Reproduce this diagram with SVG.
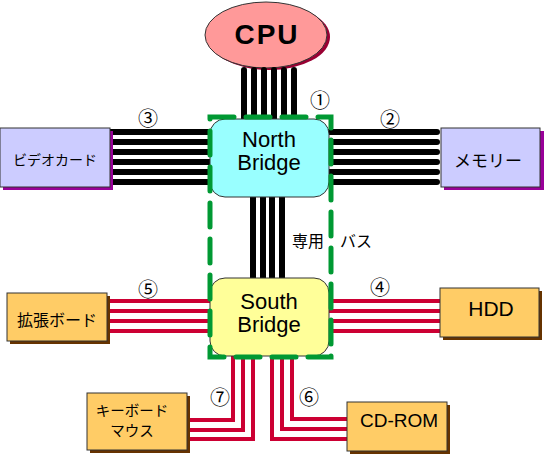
<svg xmlns="http://www.w3.org/2000/svg" width="547" height="456" viewBox="0 0 547 456">
<defs>
<style>
.jp{font-family:"Noto Sans CJK JP","Noto Sans",sans-serif;fill:#000}
.en{font-family:"Liberation Sans",Arial,sans-serif;fill:#000}
.num{font-family:"Noto Sans CJK JP","DejaVu Sans",sans-serif;font-size:20px;text-anchor:middle;fill:#000}
.blk{stroke:#000;stroke-width:6;fill:none}
.red{stroke:#cc0033;stroke-width:4;fill:none}
.box{stroke:#333;stroke-width:1}
.purple{fill:#ccccff}
.orange{fill:#ffcc66}
.shp{fill:#990099}
.shb{fill:#663300}
</style>
</defs>
<rect width="547" height="456" fill="#fff"/>

<g id="cpu">
<ellipse cx="269" cy="37" rx="61" ry="33" fill="#990033"/>
<ellipse cx="266" cy="35" rx="61" ry="33" fill="#ff9999" stroke="#333" stroke-width="1"/>
<text x="267" y="44" class="en" font-size="28" font-weight="bold" text-anchor="middle" letter-spacing="2">CPU</text>
</g>

<g id="connectors">
<g class="blk" stroke-linecap="round">
<path d="M244 70V122M254 70V122M264 70V122M274 70V122M284 70V122M294 70V122"/>
</g>
<g class="blk">
<path d="M110 132H215M110 142H215M110 152H215M110 162H215M110 172H215M110 182H215"/>
</g>
<g class="blk" stroke-linecap="round">
<path d="M325 132H437M325 142H437M325 152H437M325 162H437M325 172H437M325 182H437"/>
</g>
<g class="blk" stroke-width="5.5">
<path d="M253 195V282M263 195V282M272 195V282M282 195V282"/>
</g>
<g class="red">
<path d="M108 301H215M108 311H215M108 321H215M108 331H215"/>
<path d="M325 301H440M325 311H440M325 321H440M325 331H440"/>
<path d="M233 352V420H188M243 352V430H188M253 352V439H188"/>
<path d="M292 352V419H350M282 352V429H350M272 352V439H350"/>
</g>
</g>

<g id="north-bridge">
<rect x="210" y="119" width="119" height="78" rx="15" fill="#99ffff" class="box"/>
<text x="269" y="147" class="en" font-size="22" text-anchor="middle">North</text>
<text x="269" y="170" class="en" font-size="22" text-anchor="middle">Bridge</text>
</g>

<g id="south-bridge">
<rect x="210" y="278" width="119" height="78" rx="15" fill="#ffff99" class="box"/>
<text x="269" y="309" class="en" font-size="22" text-anchor="middle">South</text>
<text x="269" y="332" class="en" font-size="22" text-anchor="middle">Bridge</text>
</g>

<g id="bus-group">
<rect x="210" y="117" width="121" height="240" fill="none" stroke="#009933" stroke-width="5" stroke-dasharray="24 12" stroke-linecap="round"/>
<text x="292" y="247" class="jp" font-size="16">専用　バス</text>
</g>

<g id="video-card">
<rect x="3" y="131" width="110" height="59" class="shp"/>
<rect x="0" y="128" width="110" height="59" class="purple box"/>
<text x="55" y="165" class="jp" font-size="14" text-anchor="middle">ビデオカード</text>
</g>

<g id="memory">
<rect x="444" y="131" width="100" height="59" class="shp"/>
<rect x="441" y="128" width="99" height="59" class="purple box"/>
<text x="488" y="167" class="jp" font-size="17" text-anchor="middle">メモリー</text>
</g>

<g id="expansion-board">
<rect x="10" y="296" width="100" height="48" class="shb"/>
<rect x="7" y="293" width="100" height="48" class="orange box"/>
<text x="57" y="326" class="jp" font-size="16" text-anchor="middle">拡張ボード</text>
</g>

<g id="hdd">
<rect x="443" y="291" width="99" height="49" class="shb"/>
<rect x="440" y="288" width="99" height="49" class="orange box"/>
<text x="491" y="316" class="en" font-size="21" text-anchor="middle">HDD</text>
</g>

<g id="keyboard-mouse">
<rect x="90" y="396" width="100" height="57" class="shb"/>
<rect x="87" y="393" width="100" height="57" class="orange box"/>
<text x="132" y="416" class="jp" font-size="14.5" text-anchor="middle">キーボード</text>
<text x="132" y="436" class="jp" font-size="14.5" text-anchor="middle">マウス</text>
</g>

<g id="cd-rom">
<rect x="350" y="405" width="100" height="49" class="shb"/>
<rect x="347" y="402" width="100" height="49" class="orange box"/>
<text x="399" y="427" class="en" font-size="19" text-anchor="middle">CD-ROM</text>
</g>

<g id="labels">
<text x="320" y="108" class="num">①</text>
<text x="390" y="127" class="num">②</text>
<text x="148" y="126" class="num">③</text>
<text x="380" y="295" class="num">④</text>
<text x="148" y="297" class="num">⑤</text>
<text x="309" y="405" class="num">⑥</text>
<text x="220" y="405" class="num">⑦</text>
</g>
</svg>
